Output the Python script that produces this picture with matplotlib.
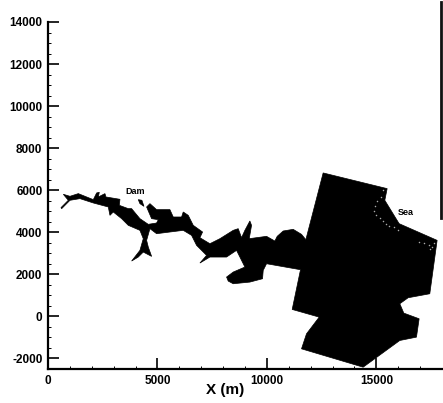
# estuary model grid, plan view
import matplotlib
matplotlib.use("Agg")
import matplotlib.pyplot as plt

plt.rcParams['font.family'] = ['Liberation Sans', 'DejaVu Sans']
plt.rcParams['font.weight'] = 'bold'
plt.rcParams['axes.unicode_minus'] = False

# outline of the domain in metres
outline_x = [593, 928, 700, 1004, 1385, 1765, 2070, 2222, 2344, 2298, 2602, 2648, 3287, 3257,
             3668, 3820, 4200, 4581, 4961, 5038, 4733, 4505, 4657, 4961, 5570, 5722, 6103,
             6179, 6407, 6636, 7062, 6940, 7397, 7853, 8462, 8690, 8842, 8995, 9223, 9299,
             9193, 9984, 10364, 10471, 10745, 11202, 11582, 11780, 12571, 15494, 15387, 16042,
             17777, 17442, 16453, 16072, 16255, 16955, 16833, 16072, 14398, 11582, 11810,
             12389, 11156, 11536, 9984, 9832, 9801, 9223, 8462, 8234, 8158, 8462, 8995, 8614, 8158,
             7397, 6940, 7244, 6788, 6560, 6179, 5570, 4961, 4657, 4505, 4581, 4733, 4353,
             4124, 3820, 4200, 4353, 4200, 3668, 3363, 2983, 2831, 2755, 2070, 1461, 1004, 624]
outline_y = [5172, 5522, 5807, 5712, 5839, 5680, 5553, 5871, 5902, 5680, 5839, 5680, 5569, 5283,
             5125, 5125, 4649, 4379, 4442, 4601, 4649, 5204, 5363, 5077, 5077, 4728, 4728,
             4966, 4807, 4331, 4014, 3744, 3458, 3696, 4093, 4173, 3744, 4093, 4538, 4331,
             3697, 3808, 3585, 3808, 4062, 4141, 3903, 3649, 6823, 6077, 5522, 4411,
             3617, 1078, 888, 602, 158, -112, -985, -1144, -2414, -1541, -826,
             -33, 332, 2221, 2506, 2189, 1792, 1633, 1554, 1681, 1872, 2110, 2348, 3141, 2824,
             2824, 2538, 2903, 3379, 3855, 4093, 4014, 3934, 4173, 3617, 3300, 2855, 3061,
             2824, 2633, 3141, 3696, 4093, 4331, 4649, 4966, 4807, 5204, 5395, 5601, 5522, 5125]

# detached bit next to the dam
dam_x = [4124, 4290, 4383, 4200]
dam_y = [5553, 5522, 5236, 5363]

# light specks along the coast
speck_x = [15300, 15200, 15050, 14950, 14900, 15000, 15150, 15300, 15450, 15600, 15800, 16000,
           16950, 17200, 17400, 17550, 17650, 17450]
speck_y = [6000, 5700, 5500, 5250, 5000, 4800, 4700, 4550, 4400, 4300, 4250, 4100,
           3550, 3500, 3400, 3300, 3500, 3200]

xticks = [0, 5000, 10000, 15000]
yticks = [-2000, 0, 2000, 4000, 6000, 8000, 10000, 12000, 14000]

W, H = 443, 403
fig = plt.figure(figsize=(W / 100, H / 100), dpi=100)
ax = fig.add_axes([48 / W, 1 - 369 / H, (442 - 48) / W, (369 - 22) / H])

ax.fill(outline_x, outline_y, color='black', lw=0.5)
ax.fill(dam_x, dam_y, color='black', lw=0.5)
ax.scatter(speck_x, speck_y, s=1.2, color='#aaaaaa', linewidths=0)

ax.text(4000, 5950, 'Dam', fontsize=6.5, ha='center', va='center')
ax.text(16350, 4950, 'Sea', fontsize=6.5, ha='center', va='center')

# stray frame line on the right of the scan
ax.plot([17950, 17950], [4665, 14950], color='#111111', lw=2, clip_on=False)

ax.set_xlim(0, 18000)
ax.set_ylim(-2500, 14000)
ax.set_xticks(xticks)
ax.set_yticks(yticks)
ax.set_xticks(range(0, 18000, 1000), minor=True)
ax.set_yticks(range(-2000, 14000, 500), minor=True)
ax.tick_params(which='major', direction='in', length=8, width=1.2, labelsize=8.5, pad=4)
ax.tick_params(which='minor', direction='in', length=2.5, width=0.7)
ax.spines['top'].set_visible(False)
ax.spines['right'].set_visible(False)
ax.spines['left'].set_linewidth(1.6)
ax.spines['bottom'].set_linewidth(1.6)
ax.set_xlabel('X (m)', fontsize=11, fontweight='bold')
ax.xaxis.set_label_coords((225 - 48) / (442 - 48), -0.04, transform=ax.transAxes)
ax.xaxis.label.set_va('top')

fig.savefig('out.png', dpi=100)
